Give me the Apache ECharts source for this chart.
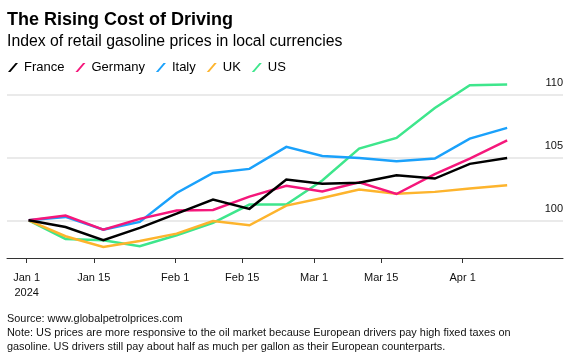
<!DOCTYPE html>
<html>
<head>
<meta charset="utf-8">
<script src="https://cdn.jsdelivr.net/npm/echarts@6/dist/echarts.min.js"></script>
<style>
html,body{margin:0;padding:0;background:#fff;}
#chart{width:573px;height:359px;}
</style>
</head>
<body>
<div id="chart"></div>
<script>
var dayOffsets = [0.4, 8.1, 16.0, 23.6, 31.3, 38.9, 46.5, 54.2, 61.7, 69.4, 77.2, 85.2, 92.5, 100.3];

// Index values (start = 100)
var france  = [100, 99.47, 98.41, 99.40, 100.53, 101.65, 100.91, 103.24, 102.90, 102.98, 103.58, 103.32, 104.49, 104.96];
var germany = [100, 100.37, 99.26, 100.11, 100.77, 100.82, 101.88, 102.75, 102.29, 103.02, 102.09, 103.68, 104.91, 106.35];
var italy   = [100, 100.27, 99.26, 99.87, 102.17, 103.77, 104.09, 105.84, 105.11, 104.96, 104.69, 104.91, 106.50, 107.35];
var uk      = [100, 98.73, 97.88, 98.36, 98.94, 99.94, 99.60, 101.17, 101.77, 102.44, 102.12, 102.26, 102.52, 102.79];
var us      = [100, 98.52, 98.42, 97.93, 98.81, 99.80, 101.25, 101.25, 103.16, 105.70, 106.55, 108.94, 110.74, 110.80];

var seriesNames = ['France', 'Germany', 'Italy', 'UK', 'US'];
var seriesValues = [france, germany, italy, uk, us];
var seriesColors = ['#000000', '#f5177b', '#1aa1fb', '#fdb42d', '#3ee68c'];

// Axis ticks
var xTickDays = [0, 14, 31, 45, 60, 74, 91];
var xTickLabels = ['Jan 1\n2024', 'Jan 15', 'Feb 1', 'Feb 15', 'Mar 1', 'Mar 15', 'Apr 1'];
var yTickValues = [100, 105, 110];

var FONT = '"Liberation Sans", Arial, sans-serif';

function pairs(vals) {
  return vals.map(function (v, i) { return [dayOffsets[i], v]; });
}

var series = [];
for (var k = seriesNames.length - 1; k >= 0; k--) {
  series.push({
    name: seriesNames[k],
    type: 'line',
    data: pairs(seriesValues[k]),
    symbol: 'none',
    color: seriesColors[k],
    lineStyle: { width: 2.5, color: seriesColors[k], join: 'miter' },
    itemStyle: { color: seriesColors[k] },
    animation: false
  });
}

var chart = echarts.init(document.getElementById('chart'), null, { renderer: 'canvas' });
chart.setOption({
  backgroundColor: '#ffffff',
  animation: false,
  title: [
    { text: 'The Rising Cost of Driving', left: 7, top: 11, padding: 0,
      textStyle: { fontFamily: FONT, fontSize: 18, fontWeight: 'bold', color: '#000' } },
    { text: 'Index of retail gasoline prices in local currencies', left: 7, top: 33.5, padding: 0,
      textStyle: { fontFamily: FONT, fontSize: 15.8, fontWeight: 'normal', color: '#000' } },
    { text: 'Source: www.globalpetrolprices.com\nNote: US prices are more responsive to the oil market because European drivers pay high fixed taxes on\ngasoline. US drivers still pay about half as much per gallon as their European counterparts.',
      left: 7, top: 311.5, padding: 0,
      textStyle: { fontFamily: FONT, fontSize: 10.9, fontWeight: 'normal', color: '#111', lineHeight: 14.3 } }
  ],
  legend: {
    data: seriesNames,
    left: 8, top: 61, padding: 0,
    itemWidth: 10, itemHeight: 9, itemGap: 11,
    icon: 'path://M0,9 L7.6,0 L10,0 L2.4,9 Z',
    itemStyle: { borderWidth: 0 },
    textStyle: { fontFamily: FONT, fontSize: 13, color: '#000', padding: [0, 0, 0, 1] },
    selectedMode: false
  },
  grid: { left: 7, right: 10, top: 82, height: 176, containLabel: false },
  xAxis: {
    type: 'value',
    min: -4.11, max: 111.96,
    splitLine: { show: false },
    axisLine: { show: true, onZero: false, lineStyle: { color: '#333', width: 1 } },
    axisTick: { show: true, customValues: xTickDays, length: 5, lineStyle: { color: '#333', width: 1 } },
    axisLabel: {
      customValues: xTickDays,
      margin: 12,
      fontFamily: FONT, fontSize: 11, color: '#111', lineHeight: 15,
      formatter: function (v) {
        var i = xTickDays.indexOf(v);
        return i >= 0 ? xTickLabels[i] : '';
      }
    }
  },
  yAxis: {
    type: 'value',
    position: 'right',
    min: 97, max: 111,
    axisLine: { show: false },
    axisTick: { show: false, customValues: yTickValues },
    splitLine: { show: true, lineStyle: { color: '#e3e3e3', width: 1.5 } },
    axisLabel: {
      customValues: yTickValues,
      inside: true, margin: 0,
      verticalAlign: 'bottom',
      padding: [0, 0, 6, 0],
      fontFamily: FONT, fontSize: 11, color: '#111'
    }
  },
  series: series
});
</script>
</body>
</html>
